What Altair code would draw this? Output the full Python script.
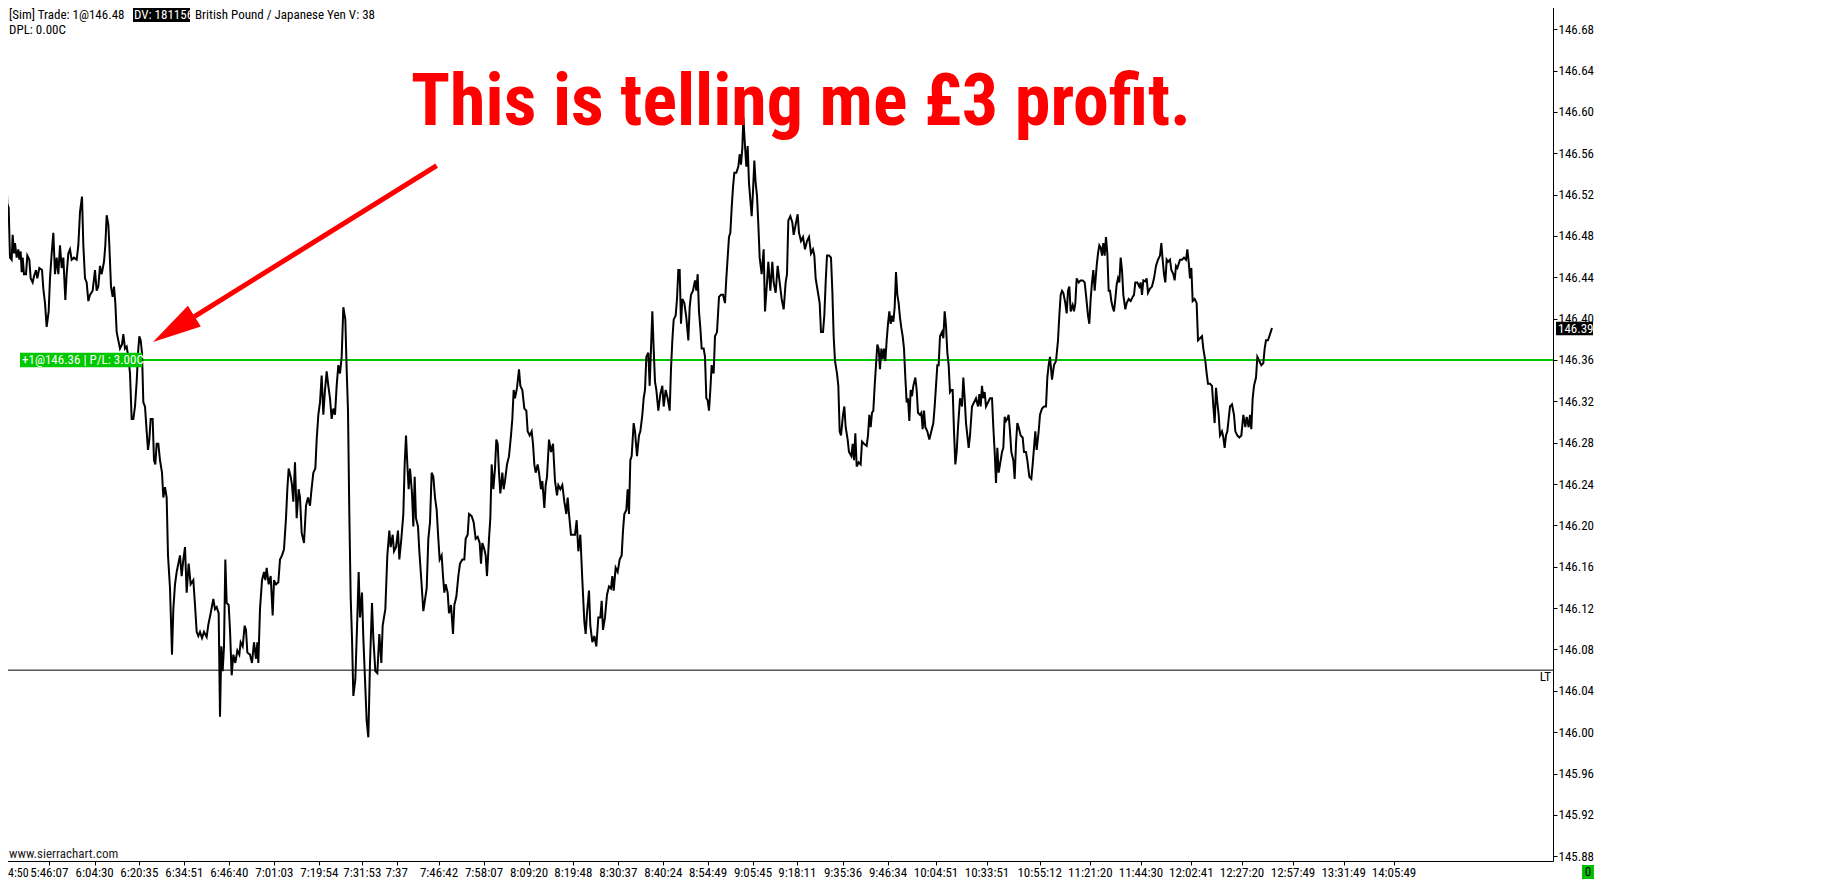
import altair as alt
import pandas as pd

# GBP/JPY tick chart, bar index on x (linear), price on y
bars_early = [13, 18, 22, 26, 30, 35, 38, 42, 45, 50, 55, 58, 62, 65, 68, 72, 78, 82, 88, 92,
              98, 102, 108, 112, 118, 126, 130, 135, 140, 146, 150, 155, 160, 165, 170, 175, 180, 185, 190, 196,
              200, 205, 210, 215, 222, 230, 235, 240, 246, 250, 255, 260, 265, 270, 278, 285, 290, 295, 300, 305,
              312, 316, 320, 325, 328, 333, 338, 342, 346, 350, 355, 360, 366, 370, 375, 380, 385, 390, 395, 400,
              405, 410, 415, 418, 422, 426, 430, 435, 440, 444, 448, 452, 458, 462, 466, 470, 475, 480, 486, 490,
              495, 500, 504, 510, 516, 520, 525, 530, 540, 545, 550, 555, 560, 566, 572, 580, 585, 590, 595, 600,
              606, 612, 620, 625, 632, 640, 645, 650, 656, 660, 664, 668, 672, 676, 680, 686, 690, 695, 700, 706,
              712, 718, 722, 728, 734, 738, 742, 750, 756, 762, 768, 772, 775, 780, 786, 792, 796, 800, 806, 812,
              818, 822, 828, 835, 840, 846, 852, 858, 862, 866, 872, 876, 880, 885, 890, 896, 900, 905, 912, 918,
              924, 930, 934, 940, 946, 950, 955, 960, 965, 970, 975, 980, 985, 990, 995, 1000, 1005, 1010, 1015, 1020,
              1025, 1030, 1036, 1040, 1044, 1048, 1052, 1056, 1060, 1066, 1072, 1076, 1080, 1086, 1090, 1096, 1100, 1105, 1110, 1116,
              1120, 1126, 1132, 1138, 1144, 1148, 1156, 1162, 1168, 1172, 1178, 1182, 1188, 1194, 1198, 1204, 1210, 1214, 1218, 1222,
              1226, 1230, 1236, 1240, 1244, 1248, 1254, 1258, 1264, 1270]
price_early = [146.529, 146.548, 146.511, 146.507, 146.459, 146.457, 146.481, 146.463, 146.473, 146.459,
               146.467, 146.457, 146.465, 146.445, 146.459, 146.443, 146.443, 146.461, 146.457, 146.439,
               146.435, 146.441, 146.447, 146.439, 146.449, 146.447, 146.429, 146.415, 146.392, 146.407,
               146.439, 146.463, 146.483, 146.443, 146.459, 146.443, 146.471, 146.449, 146.459, 146.418,
               146.443, 146.463, 146.467, 146.457, 146.459, 146.457, 146.471, 146.503, 146.518, 146.471,
               146.439, 146.435, 146.417, 146.423, 146.427, 146.447, 146.427, 146.431, 146.451, 146.443,
               146.455, 146.471, 146.500, 146.491, 146.471, 146.431, 146.421, 146.431, 146.415, 146.387,
               146.379, 146.371, 146.375, 146.385, 146.371, 146.373, 146.363, 146.347, 146.303, 146.303,
               146.315, 146.339, 146.371, 146.383, 146.379, 146.367, 146.319, 146.315, 146.291, 146.273,
               146.283, 146.303, 146.303, 146.263, 146.259, 146.279, 146.279, 146.263, 146.251, 146.227,
               146.237, 146.227, 146.171, 146.139, 146.075, 146.119, 146.143, 146.155, 146.171, 146.151,
               146.167, 146.179, 146.135, 146.163, 146.143, 146.147, 146.123, 146.097, 146.093, 146.097,
               146.091, 146.097, 146.092, 146.104, 146.115, 146.129, 146.119, 146.121, 146.115, 146.015,
               146.083, 146.059, 146.083, 146.167, 146.125, 146.123, 146.099, 146.055, 146.075, 146.067,
               146.079, 146.075, 146.087, 146.083, 146.103, 146.099, 146.077, 146.075, 146.067, 146.087,
               146.071, 146.087, 146.067, 146.119, 146.147, 146.155, 146.147, 146.159, 146.143, 146.151,
               146.113, 146.147, 146.143, 146.145, 146.167, 146.171, 146.177, 146.207, 146.235, 146.255,
               146.247, 146.239, 146.223, 146.261, 146.207, 146.235, 146.227, 146.193, 146.183, 146.219,
               146.227, 146.219, 146.233, 146.251, 146.255, 146.283, 146.307, 146.319, 146.345, 146.307,
               146.331, 146.349, 146.335, 146.323, 146.303, 146.313, 146.307, 146.335, 146.355, 146.347,
               146.363, 146.411, 146.399, 146.351, 146.311, 146.211, 146.131, 146.091, 146.035, 146.051,
               146.111, 146.155, 146.111, 146.135, 146.091, 146.043, 146.011, 145.995, 146.067, 146.125,
               146.091, 146.059, 146.057, 146.095, 146.067, 146.103, 146.119, 146.171, 146.195, 146.179,
               146.191, 146.175, 146.179, 146.195, 146.167, 146.187, 146.211, 146.259, 146.287, 146.259,
               146.235, 146.255, 146.231, 146.199, 146.247, 146.207, 146.199, 146.175, 146.147, 146.117]

bars_mid = [1280, 1285, 1290, 1295, 1300, 1305, 1310, 1315, 1319, 1325, 1329, 1333, 1337, 1343, 1347, 1353, 1359, 1363, 1369, 1375,
            1380, 1387, 1393, 1397, 1403, 1407, 1415, 1421, 1427, 1433, 1439, 1443, 1447, 1453, 1457, 1461, 1467, 1471, 1475, 1480,
            1485, 1489, 1493, 1497, 1501, 1507, 1511, 1515, 1521, 1527, 1533, 1537, 1541, 1545, 1551, 1557, 1561, 1567, 1573, 1579,
            1583, 1589, 1595, 1599, 1603, 1607, 1613, 1617, 1623, 1627, 1633, 1637, 1641, 1647, 1653, 1659, 1665, 1671, 1675, 1681,
            1687, 1693, 1699, 1703, 1707, 1713, 1719, 1725, 1730, 1735, 1741, 1747, 1753, 1757, 1761, 1767, 1771, 1777, 1783, 1789,
            1795, 1801, 1805, 1809, 1815, 1821, 1827, 1833, 1837, 1841, 1847, 1853, 1859, 1865, 1869, 1873, 1879, 1883, 1887, 1891,
            1895, 1901, 1905, 1911, 1917, 1921, 1927, 1931, 1935, 1939, 1945, 1949, 1953, 1957, 1961, 1965, 1969, 1975, 1981, 1987,
            1991, 1997, 2003, 2009, 2013, 2017, 2021, 2027, 2031, 2035, 2039, 2043, 2047, 2053, 2059, 2065, 2069, 2073, 2079, 2085,
            2089, 2093, 2097, 2101, 2105, 2111, 2115, 2119, 2123, 2127, 2131, 2135, 2141, 2145, 2151, 2157, 2163, 2169, 2175, 2179,
            2183, 2187, 2191, 2195, 2199, 2203, 2209, 2215, 2219, 2223, 2227, 2230, 2235, 2239, 2243, 2247, 2251, 2255, 2259, 2263,
            2267, 2271, 2275, 2279, 2285, 2291, 2295, 2301, 2305, 2311, 2317, 2321, 2327, 2333, 2339, 2345, 2351, 2357, 2361, 2365,
            2371, 2377, 2381, 2387, 2393, 2397, 2403, 2409, 2415, 2421, 2427, 2433, 2439, 2443, 2447, 2453, 2459, 2463, 2469, 2473,
            2477, 2481, 2487, 2493, 2497, 2501, 2505, 2511, 2515, 2519, 2523, 2529, 2533, 2537, 2543, 2547]
price_mid = [146.139, 146.187, 146.203, 146.251, 146.247, 146.227, 146.215, 146.187, 146.167, 146.171,
             146.151, 146.135, 146.143, 146.135, 146.115, 146.123, 146.095, 146.123, 146.131, 146.151,
             146.163, 146.167, 146.167, 146.187, 146.191, 146.211, 146.209, 146.203, 146.187, 146.189,
             146.183, 146.163, 146.183, 146.177, 146.171, 146.151, 146.187, 146.207, 146.259, 146.235,
             146.255, 146.283, 146.279, 146.251, 146.231, 146.251, 146.235, 146.243, 146.259, 146.267,
             146.287, 146.303, 146.331, 146.323, 146.333, 146.351, 146.335, 146.331, 146.313, 146.311,
             146.291, 146.287, 146.291, 146.279, 146.259, 146.251, 146.259, 146.251, 146.235, 146.243,
             146.217, 146.239, 146.247, 146.283, 146.271, 146.279, 146.243, 146.229, 146.239, 146.235,
             146.239, 146.223, 146.211, 146.227, 146.211, 146.191, 146.191, 146.191, 146.205, 146.175,
             146.191, 146.147, 146.107, 146.095, 146.115, 146.137, 146.103, 146.087, 146.093, 146.083,
             146.111, 146.111, 146.127, 146.099, 146.111, 146.133, 146.141, 146.139, 146.151, 146.137,
             146.159, 146.155, 146.167, 146.171, 146.195, 146.211, 146.215, 146.235, 146.211, 146.263,
             146.267, 146.299, 146.291, 146.267, 146.287, 146.291, 146.307, 146.323, 146.331, 146.363,
             146.367, 146.335, 146.371, 146.407, 146.371, 146.339, 146.331, 146.311, 146.327, 146.335,
             146.315, 146.331, 146.323, 146.311, 146.351, 146.379, 146.399, 146.403, 146.419, 146.447,
             146.447, 146.395, 146.419, 146.415, 146.401, 146.379, 146.411, 146.423, 146.427, 146.437,
             146.427, 146.443, 146.407, 146.391, 146.371, 146.371, 146.363, 146.323, 146.321, 146.311,
             146.331, 146.355, 146.347, 146.383, 146.387, 146.421, 146.423, 146.423, 146.415, 146.439,
             146.459, 146.479, 146.483, 146.507, 146.527, 146.541, 146.541, 146.547, 146.559, 146.549,
             146.565, 146.595, 146.567, 146.547, 146.567, 146.531, 146.515, 146.499, 146.523, 146.553,
             146.531, 146.519, 146.491, 146.459, 146.443, 146.467, 146.407, 146.435, 146.455, 146.427,
             146.455, 146.435, 146.425, 146.451, 146.435, 146.419, 146.409, 146.435, 146.443, 146.495,
             146.499, 146.493, 146.481, 146.491, 146.501, 146.483, 146.475, 146.479, 146.467, 146.475,
             146.479, 146.463, 146.467, 146.461, 146.439, 146.427, 146.415, 146.387, 146.387, 146.403,
             146.435, 146.461, 146.461, 146.459, 146.427, 146.383, 146.359, 146.347, 146.335, 146.291,
             146.287, 146.307, 146.315, 146.295, 146.283, 146.271]

bars_late = [2554, 2558, 2562, 2566, 2570, 2576, 2582, 2586, 2592, 2600, 2604, 2608, 2612, 2616, 2620, 2624, 2628, 2632, 2636, 2640,
             2644, 2648, 2652, 2656, 2660, 2664, 2668, 2672, 2676, 2680, 2684, 2688, 2692, 2696, 2700, 2704, 2708, 2712, 2716, 2720,
             2724, 2728, 2732, 2736, 2740, 2746, 2750, 2754, 2760, 2764, 2768, 2772, 2776, 2782, 2788, 2794, 2800, 2804, 2808, 2812,
             2816, 2820, 2826, 2830, 2834, 2838, 2842, 2846, 2850, 2854, 2858, 2862, 2866, 2870, 2874, 2880, 2886, 2890, 2894, 2898,
             2902, 2906, 2910, 2916, 2922, 2928, 2934, 2938, 2942, 2946, 2950, 2954, 2958, 2964, 2970, 2976, 2980, 2984, 2988, 2992,
             2996, 3000, 3006, 3010, 3014, 3018, 3022, 3026, 3030, 3034, 3040, 3044, 3048, 3052, 3056, 3062, 3068, 3072, 3078, 3082,
             3088, 3094, 3098, 3102, 3106, 3110, 3116, 3120, 3126, 3132, 3138, 3142, 3146, 3150, 3156, 3162, 3168, 3174, 3178, 3182,
             3186, 3190, 3196, 3200, 3204, 3208, 3212, 3218, 3222, 3226, 3230, 3236, 3242, 3248, 3254, 3258, 3264, 3268, 3272, 3276,
             3280, 3284, 3290, 3294, 3298, 3302, 3306, 3310, 3314, 3318, 3322, 3326, 3330, 3334, 3338, 3342, 3346, 3350, 3354, 3358,
             3362, 3366, 3370, 3376, 3380, 3386, 3392, 3398, 3402, 3406, 3412, 3418, 3422, 3426, 3430, 3436, 3440, 3444, 3450, 3456,
             3462, 3468, 3474, 3480, 3484, 3488, 3492, 3496, 3500, 3504, 3510, 3514, 3520, 3524, 3528, 3532, 3536, 3540, 3546, 3552,
             3558, 3562, 3566, 3570, 3574, 3578, 3584, 3590, 3594, 3600, 3606, 3610, 3616, 3620, 3624, 3630, 3636, 3640, 3644, 3648,
             3652, 3656, 3660, 3666, 3670, 3674, 3678, 3682, 3686, 3690, 3696, 3702, 3706, 3712, 3718, 3724, 3730, 3736, 3740, 3746,
             3750, 3754, 3758, 3762, 3768, 3772, 3778, 3784, 3790, 3794, 3798, 3804, 3808, 3812, 3816]
price_late = [146.267, 146.279, 146.263, 146.289, 146.257, 146.261, 146.259, 146.281, 146.279, 146.277,
              146.287, 146.307, 146.295, 146.309, 146.311, 146.335, 146.355, 146.375, 146.371, 146.351,
              146.371, 146.361, 146.371, 146.359, 146.379, 146.395, 146.407, 146.395, 146.403, 146.397,
              146.411, 146.445, 146.423, 146.415, 146.401, 146.391, 146.383, 146.371, 146.343, 146.319,
              146.323, 146.301, 146.331, 146.325, 146.335, 146.343, 146.331, 146.309, 146.307, 146.309,
              146.293, 146.311, 146.295, 146.291, 146.283, 146.291, 146.299, 146.315, 146.335, 146.355,
              146.355, 146.383, 146.387, 146.381, 146.407, 146.393, 146.367, 146.355, 146.329, 146.331,
              146.331, 146.291, 146.259, 146.271, 146.295, 146.323, 146.315, 146.343, 146.323, 146.299,
              146.287, 146.275, 146.287, 146.315, 146.319, 146.323, 146.315, 146.327, 146.315, 146.335,
              146.323, 146.329, 146.315, 146.319, 146.323, 146.323, 146.295, 146.271, 146.241, 146.275,
              146.251, 146.259, 146.271, 146.275, 146.305, 146.301, 146.303, 146.307, 146.291, 146.271,
              146.263, 146.245, 146.279, 146.299, 146.295, 146.287, 146.285, 146.271, 146.271, 146.263,
              146.247, 146.245, 146.259, 146.275, 146.291, 146.273, 146.291, 146.307, 146.313, 146.315,
              146.315, 146.343, 146.355, 146.363, 146.341, 146.355, 146.359, 146.379, 146.403, 146.423,
              146.427, 146.425, 146.415, 146.405, 146.427, 146.431, 146.407, 146.413, 146.407, 146.415,
              146.439, 146.435, 146.437, 146.437, 146.435, 146.423, 146.403, 146.395, 146.419, 146.435,
              146.447, 146.427, 146.451, 146.463, 146.471, 146.469, 146.461, 146.473, 146.461, 146.479,
              146.463, 146.427, 146.427, 146.417, 146.411, 146.407, 146.419, 146.433, 146.439, 146.435,
              146.459, 146.447, 146.423, 146.409, 146.415, 146.419, 146.417, 146.421, 146.423, 146.435,
              146.435, 146.431, 146.435, 146.423, 146.437, 146.436, 146.439, 146.425, 146.429, 146.431,
              146.439, 146.451, 146.457, 146.461, 146.473, 146.457, 146.443, 146.435, 146.457, 146.455,
              146.457, 146.447, 146.443, 146.437, 146.451, 146.449, 146.453, 146.457, 146.457, 146.459,
              146.457, 146.467, 146.455, 146.439, 146.449, 146.417, 146.419, 146.415, 146.379, 146.381,
              146.383, 146.371, 146.359, 146.347, 146.337, 146.337, 146.335, 146.315, 146.299, 146.333,
              146.319, 146.307, 146.287, 146.291, 146.285, 146.275, 146.287, 146.291, 146.303, 146.315,
              146.317, 146.307, 146.291, 146.287, 146.285, 146.287, 146.307, 146.295, 146.305, 146.295,
              146.307, 146.293, 146.323, 146.335, 146.343, 146.363, 146.359, 146.355, 146.357, 146.371,
              146.379, 146.379, 146.383, 146.387, 146.391]

# time axis (bar numbers where the labels sit)
tick_bars = [12, 148, 284, 418, 553, 688, 823, 958, 1087, 1190, 1317, 1452, 1587, 1720, 1855, 1990,
             2124, 2259, 2392, 2529, 2664, 2808, 2961, 3119, 3271, 3423, 3574, 3726, 3879, 4031, 4182]
tick_labels = ["4:50", "5:46:07", "6:04:30", "6:20:35", "6:34:51", "6:46:40", "7:01:03", "7:19:54",
               "7:31:53", "7:37", "7:46:42", "7:58:07", "8:09:20", "8:19:48", "8:30:37", "8:40:24",
               "8:54:49", "9:05:45", "9:18:11", "9:35:36", "9:46:34", "10:04:51", "10:33:51", "10:55:12",
               "11:21:20", "11:44:30", "12:02:41", "12:27:20", "12:57:49", "13:31:49", "14:05:49"]
price_ticks = [145.88, 145.92, 145.96, 146.00, 146.04, 146.08, 146.12, 146.16, 146.20, 146.24, 146.28,
               146.32, 146.36, 146.40, 146.44, 146.48, 146.52, 146.56, 146.60, 146.64, 146.68]

entry_price = 146.36
entry_label = "+1@146.36 | P/L: 3.00C"
lt_price = 146.06
last_price = 146.39
header_left = "[Sim]  Trade: 1@146.48"
header_dv = "DV: 181156"
header_right = "British Pound / Japanese Yen V: 38"
header_dpl = "DPL: 0.00C"
note = "This is telling me £3 profit."

X_MAX = 4659
Y_MIN, Y_MAX = 145.8754, 146.7082
W, H = 1553, 861
SMALL = "Liberation Sans Narrow, Roboto Condensed, Liberation Sans, sans-serif"
GREEN = "#00c800"
RED = "#fe0000"

x_scale = alt.Scale(domain=[0, X_MAX], nice=False, zero=False)
y_scale = alt.Scale(domain=[Y_MIN, Y_MAX], nice=False, zero=False)
x_axis = alt.Axis(values=tick_bars, labels=False, title=None, grid=False, tickSize=4,
                  tickColor="black", domainColor="black")
y_axis = alt.Axis(orient="right", values=price_ticks, format=".2f", title=None, grid=False,
                  tickSize=4, tickColor="black", domainColor="black", labelAlign="left",
                  labelPadding=1, labelColor="black", labelFont=SMALL, labelFontSize=13,
                  labelOverlap=False, labelFlush=False)


def X(field):
    return alt.X(field, type="quantitative", scale=x_scale, axis=x_axis)


def Y(field):
    return alt.Y(field, type="quantitative", scale=y_scale, axis=y_axis)


prices = pd.DataFrame({
    "bar": bars_early + bars_mid + bars_late,
    "price": price_early + price_mid + price_late,
})
prices["seq"] = range(len(prices))

one = pd.DataFrame({"k": [0]})

line = alt.Chart(prices).mark_line(color="black", strokeWidth=2).encode(
    x=X("bar"), y=Y("price"), order="seq:Q"
)

# horizontal lines: entry (green) and LT (black)
entry_df = pd.DataFrame({"bar": [60], "bar_end": [X_MAX], "price": [entry_price]})
entry_line = alt.Chart(entry_df).mark_rule(color=GREEN, strokeWidth=2).encode(
    x=X("bar"), x2="bar_end", y=Y("price")
)
entry_box_df = pd.DataFrame({"bar": [60], "bar_end": [427],
                             "price": [entry_price + 0.007], "price_lo": [entry_price - 0.007]})
entry_box = alt.Chart(entry_box_df).mark_rect(color=GREEN).encode(
    x=X("bar"), x2="bar_end", y=Y("price"), y2="price_lo"
)
entry_text = alt.Chart(pd.DataFrame({"bar": [66], "price": [entry_price], "t": [entry_label]})).mark_text(
    align="left", baseline="middle", color="white", font=SMALL, fontSize=13
).encode(x=X("bar"), y=Y("price"), text="t:N")

lt_df = pd.DataFrame({"bar": [0], "bar_end": [X_MAX], "price": [lt_price]})
lt_line = alt.Chart(lt_df).mark_rule(color="black", strokeWidth=1).encode(
    x=X("bar"), x2="bar_end", y=Y("price")
)
lt_text = alt.Chart(pd.DataFrame({"price": [lt_price], "t": ["LT"]})).mark_text(
    align="right", baseline="middle", dy=7, color="black", font=SMALL, fontSize=13
).encode(x=alt.value(W - 2), y=Y("price"), text="t:N")

# last price marker on the price scale
last_box = alt.Chart(pd.DataFrame({"price": [last_price + 0.007], "price_lo": [last_price - 0.006]})).mark_rect(
    color="black"
).encode(x=alt.value(W + 3), x2=alt.value(W + 40), y=Y("price"), y2="price_lo")
last_text = alt.Chart(pd.DataFrame({"price": [last_price], "t": [f"{last_price:.2f}"]})).mark_text(
    align="left", baseline="middle", color="white", font=SMALL, fontSize=13
).encode(x=alt.value(W + 5), y=Y("price"), text="t:N")

# red arrow pointing at the entry label
arrow_df = pd.DataFrame({"bar": [1310], "bar_end": [583], "price": [146.548], "price_end": [146.402]})
arrow_shaft = alt.Chart(arrow_df).mark_rule(color=RED, strokeWidth=5, strokeCap="butt").encode(
    x=X("bar"), x2="bar_end", y=Y("price"), y2="price_end"
)
arrow_head = alt.Chart(pd.DataFrame({"bar": [521], "price": [146.390]})).mark_point(
    shape="M0,-1L0.5,1L-0.5,1Z", filled=True, color=RED, opacity=1, size=2380, angle=238, strokeWidth=0
).encode(x=X("bar"), y=Y("price"))

note_text = alt.Chart(one).mark_text(
    text=note, align="left", baseline="alphabetic", color=RED,
    font="Liberation Sans Narrow, Roboto Condensed, sans-serif", fontSize=72, fontWeight="bold"
).encode(x=alt.value(411), y=alt.value(125))

# time labels under the axis
xlab = alt.Chart(pd.DataFrame({"bar": tick_bars[1:], "t": tick_labels[1:]})).mark_text(
    align="center", baseline="middle", color="black", font=SMALL, fontSize=13
).encode(x=X("bar"), y=alt.value(H + 12), text="t:N")
xlab_first = alt.Chart(one).mark_text(
    text=tick_labels[0], align="left", baseline="middle", color="black", font=SMALL, fontSize=12
).encode(x=alt.value(8), y=alt.value(H + 12))

zero_box = alt.Chart(one).mark_rect(color="#00c000").encode(
    x=alt.value(W + 29), x2=alt.value(W + 41), y=alt.value(H + 4), y2=alt.value(H + 18)
)
zero_text = alt.Chart(one).mark_text(
    text="0", align="center", baseline="middle", color="black", font=SMALL, fontSize=13
).encode(x=alt.value(W + 35), y=alt.value(H + 11))

site = alt.Chart(one).mark_text(
    text="www.sierrachart.com", align="left", baseline="middle", color="#222", font=SMALL, fontSize=13
).encode(x=alt.value(9), y=alt.value(H - 7))

# header lines
hdr_style = dict(baseline="alphabetic", font=SMALL, fontSize=13)
hdr1 = alt.Chart(one).mark_text(text=header_left, align="left", color="black", **hdr_style).encode(
    x=alt.value(9), y=alt.value(19))
dv_box = alt.Chart(one).mark_rect(color="black").encode(
    x=alt.value(133), x2=alt.value(190), y=alt.value(8), y2=alt.value(22))
dv_text = alt.Chart(one).mark_text(text=header_dv, align="left", color="white", **hdr_style).encode(
    x=alt.value(134), y=alt.value(19))
hdr2 = alt.Chart(one).mark_text(text=header_right, align="left", color="black", **hdr_style).encode(
    x=alt.value(195), y=alt.value(19))
hdr3 = alt.Chart(one).mark_text(text=header_dpl, align="left", color="black", **hdr_style).encode(
    x=alt.value(9), y=alt.value(34))

chart = alt.layer(
    lt_line, entry_line, line, entry_box, entry_text, lt_text, last_box, last_text,
    arrow_shaft, arrow_head, note_text, xlab, xlab_first, zero_box, zero_text, site,
    dv_box, hdr1, dv_text, hdr2, hdr3,
).properties(
    width=W, height=H,
    padding={"left": -8, "top": -8, "right": 60, "bottom": 20},
    autosize=alt.AutoSizeParams(type="none"),
).configure_view(strokeWidth=0).configure_axis(labelFont=SMALL)

chart.save("out.html", embed_options={"renderer": "svg", "actions": False})
